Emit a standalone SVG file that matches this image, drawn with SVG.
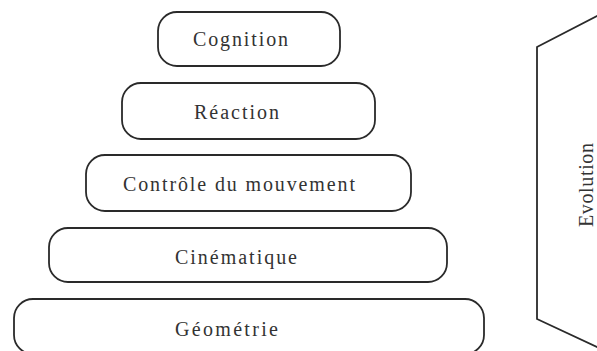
<svg xmlns="http://www.w3.org/2000/svg" width="597" height="351" viewBox="0 0 597 351">
  <style>
    .box { fill: #ffffff; stroke: #2a2a2a; stroke-width: 1.8; }
    .lbl { font-family: "Liberation Serif", "Times New Roman", serif; font-size: 20px; fill: #333333; }
    .edge { fill: none; stroke: #2a2a2a; stroke-width: 1.8; stroke-linejoin: miter; }
  </style>
  <rect width="597" height="351" fill="#ffffff"/>

  <!-- pyramid levels, top to bottom -->
  <g id="cognition">
    <rect class="box" x="158" y="12" width="182" height="54" rx="19" ry="19"/>
    <text class="lbl" x="193" y="46" textLength="95" lengthAdjust="spacing">Cognition</text>
  </g>
  <g id="reaction">
    <rect class="box" x="122" y="83" width="253" height="56" rx="19" ry="19"/>
    <text class="lbl" x="194" y="119" textLength="85" lengthAdjust="spacing">Réaction</text>
  </g>
  <g id="controle">
    <rect class="box" x="86" y="155" width="325" height="56" rx="19" ry="19"/>
    <text class="lbl" x="123" y="191" textLength="232" lengthAdjust="spacing">Contrôle du mouvement</text>
  </g>
  <g id="cinematique">
    <rect class="box" x="49" y="228" width="398" height="54" rx="19" ry="19"/>
    <text class="lbl" x="175" y="264" textLength="122" lengthAdjust="spacing">Cinématique</text>
  </g>
  <g id="geometrie">
    <rect class="box" x="14" y="299" width="470" height="55" rx="19" ry="19"/>
    <text class="lbl" x="175" y="336" textLength="103" lengthAdjust="spacing">Géométrie</text>
  </g>

  <!-- evolution bracket on the right -->
  <g id="connectors">
    <polyline class="edge" points="599,15 537,47 537,319 599,348"/>
  </g>
  <g id="evolution">
    <text class="lbl" transform="translate(593,227) rotate(-90)" x="0" y="0" textLength="84" lengthAdjust="spacing">Evolution</text>
  </g>
</svg>
